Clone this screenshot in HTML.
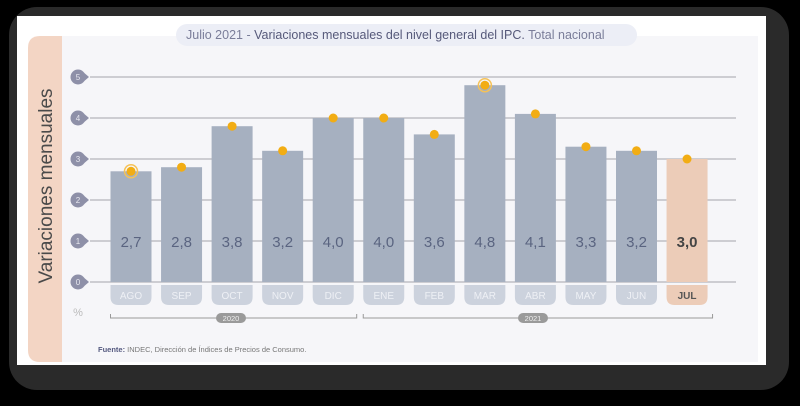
<!DOCTYPE html>
<html><head><meta charset="utf-8"><style>
body{margin:0;width:800px;height:401px;background:#000;overflow:hidden;font-family:"Liberation Sans",sans-serif}
</style></head><body>
<svg width="800" height="401" xmlns="http://www.w3.org/2000/svg">
<rect x="9" y="7" width="780" height="383" rx="28" fill="#2a2a2a"/>
<rect x="17" y="16" width="749" height="349" fill="#ffffff"/>
<rect x="60" y="36" width="698" height="326" fill="#f6f6f9"/>
<path d="M62 36 H40 Q28 36 28 48 V350 Q28 362 40 362 H62 Z" fill="#f3d5c4"/>
<text transform="translate(52,186) rotate(-90)" text-anchor="middle" font-size="19" fill="#4a4a4a">Variaciones mensuales</text>
<rect x="176" y="24" width="461" height="22" rx="11" fill="#eceef6"/>
<text x="186" y="39" font-size="12.5" fill="#7a7d99">Julio 2021 -  <tspan fill="#56597a">Variaciones mensuales del nivel general del IPC.</tspan> Total nacional</text>
<g id="g"></g>
<text x="78" y="316" text-anchor="middle" font-size="11" fill="#bbb">%</text>
<text x="98" y="352" font-size="7.5" fill="#777"><tspan font-weight="bold" fill="#555a80">Fuente:</tspan> INDEC, Dirección de Índices de Precios de Consumo.</text>
</svg>
<script>
const months=["AGO","SEP","OCT","NOV","DIC","ENE","FEB","MAR","ABR","MAY","JUN","JUL"];
const values=[2.7,2.8,3.8,3.2,4.0,4.0,3.6,4.8,4.1,3.3,3.2,3.0];
const yTicks=[0,1,2,3,4,5];
const years=["2020","2021"];
const yearStart=[0,5];
const yearEnd=[4,11];
const NS="http://www.w3.org/2000/svg";
const g=document.getElementById('g');
const y=v=>282-v*41;
const xc=i=>131+i*50.55;
const bw=41;
function mk(t,a,txt){const e=document.createElementNS(NS,t);for(const k in a)e.setAttribute(k,a[k]);if(txt!==undefined)e.textContent=txt;g.appendChild(e);return e;}
yTicks.forEach(t=>{
 const l=mk('line',{x1:90,x2:736,y1:y(t),y2:y(t),stroke:'#b5b5bb','stroke-width':1.3});
 
 
 const c=mk('path',{d:`M82 ${y(t)-6} L89 ${y(t)} L82 ${y(t)+6} Z`,fill:'#8e90a8'});
 
 
 const c2=mk('circle',{cx:78,cy:y(t),r:7.5,fill:'#8e90a8'});
 
 
 const tx=mk('text',{x:78,y:y(t)+3,'text-anchor':'middle','font-size':8,fill:'#e8e8f0'},String(t));
 
 
});
values.forEach((v,i)=>{
 const last=i===values.length-1;
 const b=mk('rect',{x:xc(i)-bw/2,y:y(v),width:bw,height:y(0)-y(v),fill:last?'#ecccb8':'#a6b0c0'});
 
 
 const vl=mk('text',{x:xc(i),y:247,'text-anchor':'middle','font-size':15,fill:last?'#444':'#5a6480','font-weight':last?'bold':'normal'},v.toFixed(1).replace('.',','));
 
 
 const tab=mk('path',{d:`M${xc(i)-bw/2} 285 h${bw} v12 q0 8 -8 8 h${-bw+16} q-8 0 -8 -8 Z`,fill:last?'#ecccb8':'#ccd2dd'});
 
 
 const ml=mk('text',{x:xc(i),y:299,'text-anchor':'middle','font-size':10,fill:last?'#555':'#eef0f5','font-weight':last?'bold':'normal'},months[i]);
 
 
 if(i===0||i===7){const r=mk('circle',{cx:xc(i),cy:y(v),r:6.5,fill:'none',stroke:'#f5c258','stroke-width':1.5});
  
  }
 const d=mk('circle',{cx:xc(i),cy:y(v),r:4.5,fill:'#f2ad14'});
 
 
});
years.forEach((yr,k)=>{
 const x1=xc(yearStart[k])-bw/2,x2=xc(yearEnd[k])+bw/2+(k===0?3:5);
 const br=mk('path',{d:`M${x1} 314 V318 H${x2} V314`,fill:'none',stroke:'#999','stroke-width':1});
 
 
 const cx=k===0?231:533;
 const p=mk('rect',{x:cx-15,y:313,width:30,height:10,rx:5,fill:'#9a9a9a'});
 
 
 const t=mk('text',{x:cx,y:321,'text-anchor':'middle','font-size':7.5,fill:'#eee'},yr);
 
 
});
</script>
</body></html>
